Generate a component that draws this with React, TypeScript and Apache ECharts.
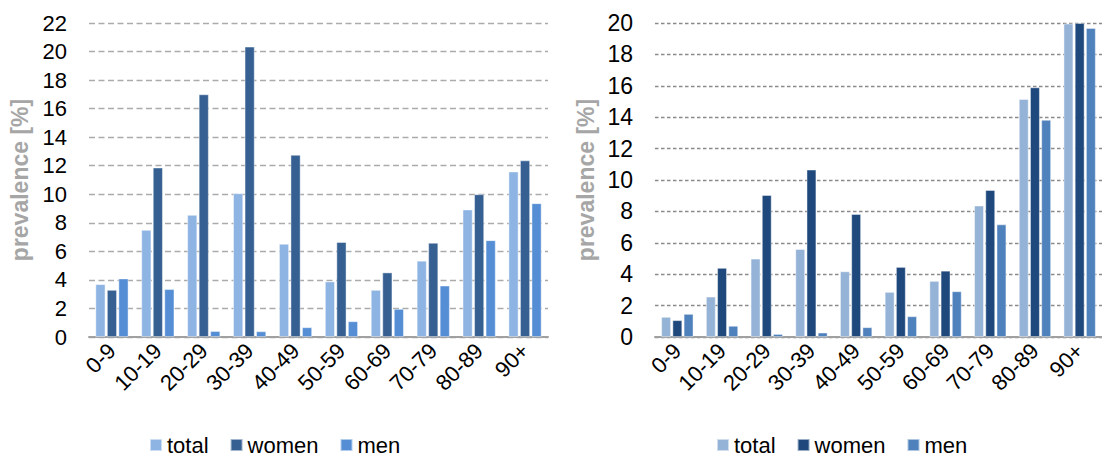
import React, { useEffect, useRef } from "react";
import * as echarts from "echarts";

const categories = ["0-9", "10-19", "20-29", "30-39", "40-49", "50-59", "60-69", "70-79", "80-89", "90+"];
const leftTotal = [3.7, 7.5, 8.55, 10.07, 6.53, 3.89, 3.3, 5.34, 8.93, 11.59];
const leftWomen = [3.3, 11.87, 17.0, 20.34, 12.76, 6.65, 4.52, 6.6, 10.0, 12.37];
const leftMen = [4.1, 3.35, 0.42, 0.4, 0.68, 1.1, 1.97, 3.6, 6.78, 9.37];
const rightTotal = [1.28, 2.57, 4.99, 5.6, 4.18, 2.87, 3.57, 8.37, 15.15, 19.96];
const rightWomen = [1.07, 4.4, 9.04, 10.66, 7.83, 4.46, 4.22, 9.36, 15.9, 20];
const rightMen = [1.47, 0.71, 0.19, 0.28, 0.62, 1.32, 2.91, 7.17, 13.83, 19.68];
const seriesNames = ["total", "women", "men"];
const leftColors = ["#8EB4E3", "#376092", "#558ED5"];
const rightColors = ["#95B3D7", "#1F497D", "#4F81BD"];

const FONT = "'Liberation Sans', Arial, sans-serif";

export default function App() {
  const ref = useRef<HTMLDivElement>(null);
  useEffect(() => {
    if (!ref.current) return;
    const chart = echarts.init(ref.current, undefined, { renderer: "svg" });
    const mkY = (gridIndex: number, max: number, gridColor: string, dash: number[], fs: number) => ({
      type: "value",
      gridIndex,
      min: 0,
      max,
      interval: 2,
      name: "prevalence [%]",
      nameLocation: "middle",
      nameGap: 58,
      nameTextStyle: { color: "#A6A6A6", fontSize: 23, fontWeight: "bold", fontFamily: FONT },
      axisLine: { show: false },
      axisTick: { show: false },
      axisLabel: { color: "#000", fontSize: fs, fontFamily: FONT, margin: 22 },
      splitLine: { show: true, lineStyle: { color: gridColor, type: dash, width: 1.3 } },
    });
    const mkX = (gridIndex: number) => ({
      type: "category",
      gridIndex,
      data: categories,
      axisLine: { show: true, lineStyle: { color: "#A0A0A0", width: 2 } },
      axisTick: { show: false },
      axisLabel: { color: "#000", fontSize: 22, fontFamily: FONT, rotate: 45, interval: 0, margin: 10 },
    });
    const mkBar = (name: string, idx: number, data: number[], color: string) => ({
      type: "bar",
      name,
      xAxisIndex: idx,
      yAxisIndex: idx,
      data,
      barCategoryGap: "28%",
      barGap: "15%",
      itemStyle: { color, borderColor: "rgba(255,255,255,0.55)", borderWidth: 0.8 },
    });
    const leftData = [leftTotal, leftWomen, leftMen];
    const rightData = [rightTotal, rightWomen, rightMen];
    const legendCommon = {
      orient: "horizontal",
      itemWidth: 12,
      itemHeight: 12,
      itemGap: 21,
      icon: "rect",
      top: 434,
      padding: 0,
      textStyle: { color: "#000", fontSize: 22, fontFamily: FONT, lineHeight: 20 },
      selectedMode: false,
    };
    chart.setOption({
      animation: false,
      textStyle: { fontFamily: FONT },
      grid: [
        { left: 89, width: 459, top: 23, bottom: 120 },
        { left: 655, width: 463, top: 23, bottom: 120 },
      ],
      xAxis: [mkX(0), mkX(1)],
      yAxis: [
        mkY(0, 22, "#ABABAB", [6, 3.5], 22),
        mkY(1, 20, "#8A8A8A", [3.5, 2.5], 23),
      ],
      legend: [
        { ...legendCommon, left: 149, data: seriesNames.map((n) => n + "_l"), formatter: (n: string) => n.split("_")[0] },
        { ...legendCommon, left: 716, data: seriesNames.map((n) => n + "_r"), formatter: (n: string) => n.split("_")[0] },
      ],
      series: [
        ...seriesNames.map((n, i) => mkBar(n + "_l", 0, leftData[i], leftColors[i])),
        ...seriesNames.map((n, i) => mkBar(n + "_r", 1, rightData[i], rightColors[i])),
      ],
    });
    return () => chart.dispose();
  }, []);
  return (
    <div
      ref={ref}
      style={{ position: "absolute", left: 0, top: 0, width: 1102, height: 457, background: "#fff" }}
    />
  );
}
